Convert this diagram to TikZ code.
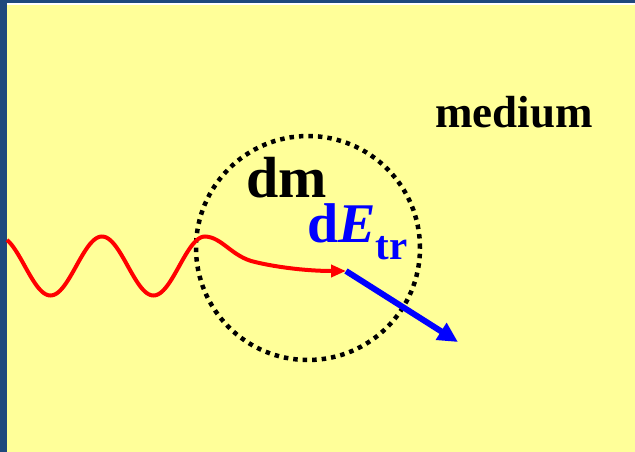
\documentclass[tikz,border=0pt]{standalone}
\usepackage{fontspec}
\setmainfont{Liberation Serif}
\usepackage{tikz}
\usetikzlibrary{positioning, arrows.meta}
\definecolor{slideblue}{HTML}{1F497D}
\definecolor{paleyellow}{HTML}{FFFF99}
\tikzset{
  label/.style={inner sep=0pt, anchor=base west, font=\bfseries},
  shell/.style={circle, draw=black, line width=4.5pt, dash pattern=on 4.5pt off 5pt, minimum size=224pt, inner sep=0pt},
  photon/.style={red, line width=4pt, -{Triangle[length=15pt, width=12pt]}},
  electron/.style={blue, line width=6pt, -{Triangle[length=20pt, width=19pt]}},
}

\begin{document}
\begin{tikzpicture}[x=1pt, y=-1pt]
        % Frame
        \fill[slideblue] (0,0) rectangle (635,452);
        \fill[white] (7,3) rectangle (635,452);
        \fill[paleyellow] (7,5) rectangle (635,452);
        \useasboundingbox (0,0) rectangle (635,452);

        % Mass element
        \node[shell] (mass) at (308,248) {};

        % Labels
        \node[label, font=\fontsize{45}{45}\selectfont\bfseries] (medium) at (435,127) {medium};
        \node[label, font=\fontsize{58}{58}\selectfont\bfseries] (dm) at (246,197) {dm};
        \node[label, blue, font=\fontsize{56}{56}\selectfont\bfseries] (dE) at (307,242)
          {d\textit{E}\raisebox{-0.32em}{\fontsize{41}{41}\selectfont tr}};

        % Photon path
        \coordinate (start) at (7,239);
        \coordinate (enter) at (205,237);
        \coordinate (hit) at (346,271);
        \coordinate (out) at (458,342);
        \draw[photon] plot[domain=7:205, samples=120, smooth] (\x, {266-29.5*cos(3.4951*(\x-102))})
          .. controls (222,237) and (232,257) .. (255,262)
          .. controls (280,268) and (310,271) .. (hit);

        % Electron
        \draw[electron] (hit) -- (out);
        \end{tikzpicture}
\end{document}
